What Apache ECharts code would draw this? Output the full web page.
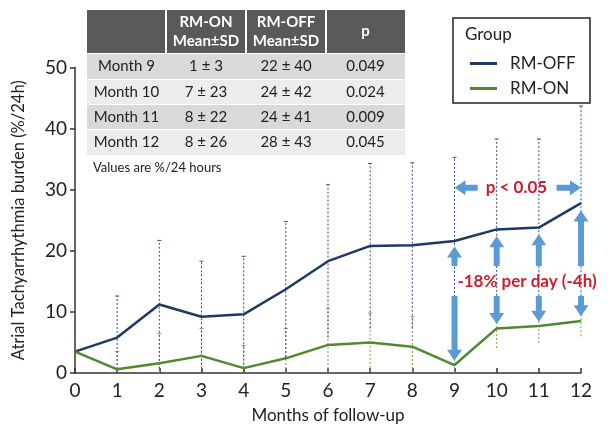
<!DOCTYPE html>
<html><head><meta charset="utf-8">
<script src="https://cdn.jsdelivr.net/npm/echarts@6/dist/echarts.min.js"></script>
<style>html,body{margin:0;padding:0;background:#fff}#c{width:610px;height:429px}</style>
</head><body><div id="c"></div>
<script>
const months = [0,1,2,3,4,5,6,7,8,9,10,11,12];
const rmOff = [3.5,5.8,11.2,9.2,9.6,13.7,18.3,20.8,20.9,21.6,23.5,23.8,27.8];
const rmOn  = [3.5,0.6,1.6,2.8,0.8,2.4,4.6,5.0,4.3,1.3,7.3,7.7,8.5];
const rmOffUpper = [3.5,12.6,21.7,18.3,19.1,24.8,30.8,34.3,34.4,35.3,38.3,38.3,43.7];
const rmOnUpper  = [3.5,3.5,6.5,7.3,4.5,7.3,10.6,9.8,9.2,4.5,10.5,10.5,11];
const yTicks = [0,10,20,30,40,50];
const tableHeader = ['', 'RM-ON\nMean±SD', 'RM-OFF\nMean±SD', 'p'];
const tableRows = [
  ['Month 9','1 ± 3','22 ± 40','0.049'],
  ['Month 10','7 ± 23','24 ± 42','0.024'],
  ['Month 11','8 ± 22','24 ± 41','0.009'],
  ['Month 12','8 ± 26','28 ± 43','0.045']
];
// arrows: [x, yStart, yTip]
const vArrows = [[9,17.5,20.7],[9,12.6,2.0],[10,17.5,22.4],[10,12.6,8.0],[11,17.5,22.7],[11,12.6,8.4],[12,17.5,26.6],[12,12.6,9.3]];
const hArrows = [[9.55,30.3,9.0],[11.42,30.3,12.0]];
const notes = [[10.47,30.3,'p < 0.05'],[10.72,14.9,'-18% per day (-4h)']];

const FONT = 'Lato';
const chart = echarts.init(document.getElementById('c'), null, {renderer:'canvas'});

function errSeries(upper, mean, color){
  return {
    type:'custom', silent:true, z:1,
    data: months.map((m,i)=>[m, Math.max(0, 2*mean[i]-upper[i]), upper[i]]),
    renderItem:(params, api)=>{
      const x = api.value(0), lo = api.value(1), hi = api.value(2);
      if (hi - lo < 0.01) return null;
      const p1 = api.coord([x, lo]), p2 = api.coord([x, hi]);
      return {type:'group', children:[
        {type:'line', shape:{x1:p1[0],y1:p1[1],x2:p2[0],y2:p2[1]}, style:{stroke:color, lineWidth:1, lineDash:[2,2]}},
        {type:'line', shape:{x1:p2[0]-2,y1:p2[1],x2:p2[0]+2,y2:p2[1]}, style:{stroke:color, lineWidth:1}}
      ]};
    }
  };
}
function arrowShape(p1, p2){
  const dx = p2[0]-p1[0], dy = p2[1]-p1[1];
  const L = Math.sqrt(dx*dx+dy*dy) || 1;
  const ux = dx/L, uy = dy/L, nx = -uy, ny = ux;
  const hl = 11, hw = 7.5, sw = 3;
  const bx = p2[0]-ux*hl, by = p2[1]-uy*hl;
  return [
    [p1[0]+nx*sw, p1[1]+ny*sw],[bx+nx*sw, by+ny*sw],[bx+nx*hw, by+ny*hw],[p2[0],p2[1]],
    [bx-nx*hw, by-ny*hw],[bx-nx*sw, by-ny*sw],[p1[0]-nx*sw, p1[1]-ny*sw]
  ];
}
const ARROW = '#5b9bd5';
const option = {
  animation:false,
  textStyle:{fontFamily:FONT},
  grid:{left:75, right:29, top:67.5, bottom:55, containLabel:false},
  xAxis:{type:'value', min:0, max:12, interval:1,
    name:'Months of follow-up', nameLocation:'middle', nameGap:34,
    nameTextStyle:{fontSize:17, color:'#222', fontFamily:FONT},
    axisLine:{lineStyle:{color:'#333', width:1.5}},
    axisTick:{inside:true, length:5, lineStyle:{color:'#333', width:1.5}},
    axisLabel:{fontSize:19, color:'#222', margin:8, fontFamily:FONT},
    splitLine:{show:false}},
  yAxis:{type:'value', min:0, max:50, interval:10,
    name:'Atrial Tachyarrhythmia burden (%/24h)', nameLocation:'middle', nameGap:48,
    nameTextStyle:{fontSize:16.5, color:'#222', fontFamily:FONT},
    axisLine:{show:true, lineStyle:{color:'#333', width:1.5}},
    axisTick:{show:true, length:5, lineStyle:{color:'#333', width:1.5}},
    axisLabel:{fontSize:19, color:'#222', margin:8, fontFamily:FONT},
    splitLine:{show:false}},
  legend:{data:['RM-OFF','RM-ON'], orient:'vertical', left:465, top:50, itemGap:8,
    icon:'rect', itemWidth:27, itemHeight:3,
    textStyle:{fontSize:17, color:'#222', fontFamily:FONT, padding:[0,0,0,8]}},
  series:[
    errSeries(rmOnUpper, rmOn, '#8a9a4a'),
    errSeries(rmOffUpper, rmOff, '#3a4a8c'),
    {name:'RM-OFF', type:'line', data:months.map((m,i)=>[m,rmOff[i]]), showSymbol:false, z:3,
      lineStyle:{color:'#1f3864', width:2.5}, itemStyle:{color:'#1f3864'}},
    {name:'RM-ON', type:'line', data:months.map((m,i)=>[m,rmOn[i]]), showSymbol:false, z:3,
      lineStyle:{color:'#4f8a2c', width:2.5}, itemStyle:{color:'#4f8a2c'}},
    {type:'custom', silent:true, z:5,
      data: vArrows.map(a=>[a[0],a[1],a[0],a[2]]).concat(hArrows.map(a=>[a[0],a[1],a[2],a[1]])),
      renderItem:(params, api)=>{
        const p1 = api.coord([api.value(0), api.value(1)]);
        const p2 = api.coord([api.value(2), api.value(3)]);
        return {type:'polygon', shape:{points:arrowShape(p1,p2)}, style:{fill:ARROW}};
      }},
    {type:'custom', silent:true, z:6,
      data: notes.map(n=>[n[0],n[1]]),
      renderItem:(params, api)=>{
        const p = api.coord([api.value(0), api.value(1)]);
        return {type:'text', x:p[0], y:p[1], style:{text:notes[params.dataIndex][2], fill:'#cc1f2e',
          font:'bold 17px '+FONT, textAlign:'center', textVerticalAlign:'middle'}};
      }}
  ],
  graphic:[]
};

// table
const colX = [87,166,246,326,405];
const headTop = 10, headBot = 53;
const rowEdges = [53,79,104,129,155];
const rowFill = ['#d9d9d9','#ececec','#d9d9d9','#ececec'];
const g = [];
g.push({type:'rect', shape:{x:colX[0], y:headTop, width:colX[4]-colX[0], height:headBot-headTop}, style:{fill:'#595959'}});
for (let c=1;c<4;c++) g.push({type:'rect', shape:{x:colX[c]-1, y:headTop, width:2, height:headBot-headTop}, style:{fill:'#ffffff'}});
tableHeader.forEach((h,c)=>{
  g.push({type:'text', x:(colX[c]+colX[c+1])/2, y:(headTop+headBot)/2,
    style:{text:h, fill:'#fff', font:'bold 15px '+FONT, textAlign:'center', textVerticalAlign:'middle', lineHeight:19}});
});
tableRows.forEach((r,i)=>{
  g.push({type:'rect', shape:{x:colX[0], y:rowEdges[i]+1, width:colX[4]-colX[0], height:rowEdges[i+1]-rowEdges[i]-1}, style:{fill:rowFill[i]}});
  r.forEach((t,c)=>{
    g.push({type:'text', x:(colX[c]+colX[c+1])/2, y:(rowEdges[i]+rowEdges[i+1])/2+0.5,
      style:{text:t, fill:'#222', font:'15px '+FONT, textAlign:'center', textVerticalAlign:'middle'}});
  });
});
g.push({type:'text', x:93, y:168, style:{text:'Values are %/24 hours', fill:'#222', font:'13px '+FONT, textVerticalAlign:'middle'}});
// legend box
g.push({type:'rect', shape:{x:453, y:18, width:137, height:85}, style:{fill:'none', stroke:'#222', lineWidth:1.5}});
g.push({type:'text', x:465, y:35, style:{text:'Group', fill:'#222', font:'17px '+FONT, textVerticalAlign:'middle'}});
option.graphic = g;
chart.setOption(option);
</script></body></html>
